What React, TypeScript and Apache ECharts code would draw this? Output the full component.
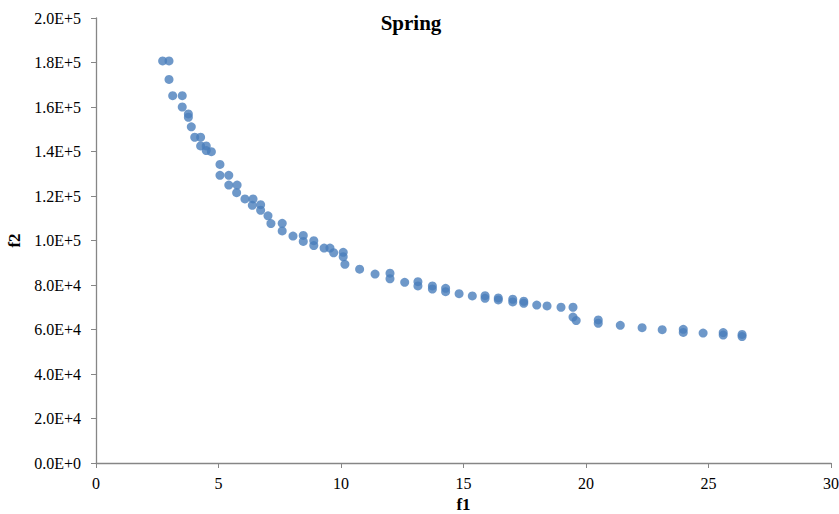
import React, { useEffect, useRef } from "react";
import * as echarts from "echarts";

const f1Values: number[] = [
  2.72, 2.98, 2.98, 3.13, 3.52, 3.52, 3.77, 3.77, 3.89, 4.03,
  4.27, 4.27, 4.5, 4.5, 4.71, 5.06, 5.06, 5.42, 5.42, 5.76,
  5.74, 6.08, 6.41, 6.38, 6.72, 6.72, 7.02, 7.14, 7.6, 7.6,
  8.04, 8.46, 8.46, 8.89, 8.89, 9.31, 9.55, 9.7, 10.09, 10.09,
  10.16, 10.76, 11.39, 12.0, 12.0, 12.6, 13.14, 13.14, 13.73, 13.73,
  14.27, 14.27, 14.82, 15.36, 15.88, 15.88, 16.42, 16.42, 17.01, 17.01,
  17.46, 17.46, 17.99, 18.41, 18.98, 19.47, 19.47, 19.6, 20.5, 20.5,
  21.4, 22.29, 23.11, 23.97, 23.97, 24.78, 25.6, 25.6, 26.37, 26.37,
];

const f2Values: number[] = [
  180700, 180700, 172400, 165100, 165100, 160000, 156900, 155400, 151100, 146400,
  146400, 142500, 142500, 140400, 139900, 134200, 129300, 129300, 124900, 124900,
  121500, 118700, 118700, 115800, 116100, 113600, 111100, 107600, 107700, 104300,
  102000, 102300, 99600, 99900, 97700, 96600, 96600, 94500, 94700, 92700,
  89300, 87100, 84900, 85300, 82800, 81200, 81500, 79600, 79600, 78200,
  78500, 77000, 76100, 75100, 75200, 74000, 74200, 73300, 73600, 72400,
  72700, 71800, 71000, 70600, 70000, 70000, 65600, 64000, 64300, 62800,
  61900, 60800, 59900, 60100, 58700, 58400, 58600, 57500, 57800, 56800,
];

const titleText = "Spring";
const xName = "f1";
const yName = "f2";

function sci(v: number): string {
  if (v === 0) return "0.0E+0";
  const e = Math.floor(Math.log10(Math.abs(v)) + 1e-9);
  const m = v / Math.pow(10, e);
  return `${m.toFixed(1)}E+${e}`;
}

export default function App() {
  const ref = useRef<HTMLDivElement>(null);
  useEffect(() => {
    if (!ref.current) return;
    const chart = echarts.init(ref.current, undefined, { renderer: "svg" });
    const font = "'Liberation Serif', 'Times New Roman', serif";
    const axisLine = { lineStyle: { color: "#868686", width: 1.3 } };
    chart.setOption({
      animation: false,
      backgroundColor: "#ffffff",
      title: {
        text: titleText,
        left: 406,
        top: 7,
        textAlign: "center",
        textStyle: { fontFamily: font, fontWeight: "bold", fontSize: 21, color: "#000" },
      },
      grid: { left: 96, right: 8, top: 18, bottom: 51, containLabel: false, outerBoundsMode: "none" },
      xAxis: {
        type: "value",
        min: 0,
        max: 30,
        interval: 5,
        name: xName,
        nameLocation: "middle",
        nameGap: 33,
        nameTextStyle: { fontFamily: font, fontWeight: "bold", fontSize: 17, color: "#000" },
        axisLine: { show: true, ...axisLine },
        axisTick: { show: true, length: 5, lineStyle: { color: "#868686" } },
        axisLabel: { fontFamily: font, fontSize: 16, color: "#000", margin: 12 },
        splitLine: { show: false },
      },
      yAxis: {
        type: "value",
        min: 0,
        max: 200000,
        interval: 20000,
        name: yName,
        nameLocation: "middle",
        nameGap: 72,
        nameRotate: 90,
        nameTextStyle: { fontFamily: font, fontWeight: "bold", fontSize: 17, color: "#000" },
        axisLine: { show: true, ...axisLine },
        axisTick: { show: true, length: 5, lineStyle: { color: "#868686" } },
        axisLabel: { fontFamily: font, fontSize: 16, color: "#000", margin: 15, formatter: (v: number) => sci(v) },
        splitLine: { show: false },
      },
      series: [
        {
          type: "scatter",
          data: f1Values.map((x, i) => [x, f2Values[i]]),
          symbol: "circle",
          symbolSize: 9,
          itemStyle: { color: "#4A7EBB" },
        },
      ],
    });
    return () => chart.dispose();
  }, []);
  return <div ref={ref} style={{ width: 839, height: 514, position: "absolute", left: 0, top: 0 }} />;
}
